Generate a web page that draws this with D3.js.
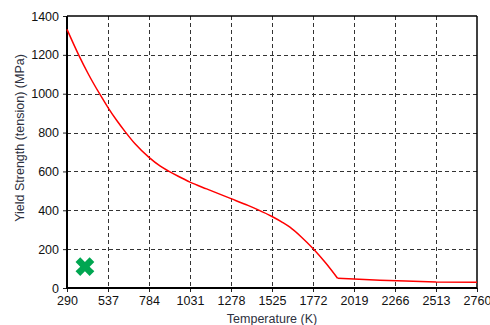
<!DOCTYPE html>
<html>
<head>
<meta charset="utf-8">
<script src="https://cdn.jsdelivr.net/npm/d3@7"></script>
<style>
  html, body { margin: 0; padding: 0; background: #fff; }
  svg { display: block; font-family: "Liberation Sans", Arial, sans-serif; }
</style>
</head>
<body>
<svg id="chart" width="490" height="325"></svg>
<script>
// Yield strength (tension) versus temperature
const temperatureK = [290, 360, 420, 486, 540, 590, 640, 700, 784, 850, 905, 960, 1031, 1131, 1278, 1380, 1442, 1525, 1590, 1633, 1700, 1772, 1850, 1920, 2019, 2175, 2330, 2513, 2760];
const yieldMPa     = [1331, 1200, 1099, 1000, 925, 862, 805, 742, 672, 628, 600, 575, 545, 510, 460, 425, 402, 368, 337, 313, 264, 203, 127, 50, 46, 40, 36, 31, 29];
// the curve has a sharp knee at this temperature; the tail beyond it is piecewise straight
const kneeT = 1920;

// Single measured point (green cross)
const markerT = [398];
const markerY = [110];

const xTicks = [290, 537, 784, 1031, 1278, 1525, 1772, 2019, 2266, 2513, 2760];
const yTicks = [0, 200, 400, 600, 800, 1000, 1200, 1400];

const xTitle = "Temperature (K)";
const yTitle = "Yield Strength (tension) (MPa)";

const svg = d3.select("#chart");
const plotL = 67, plotR = 477, plotT = 16, plotB = 288;

const x = d3.scaleLinear().domain([290, 2760]).range([plotL, plotR]);
const y = d3.scaleLinear().domain([0, 1400]).range([plotB, plotT]);

// grid
const grid = svg.append("g").attr("stroke", "#333").attr("stroke-width", 1)
  .attr("stroke-dasharray", "4,3");
grid.selectAll("line.v").data(xTicks.slice(1, -1)).join("line")
  .attr("class", "v")
  .attr("x1", d => Math.round(x(d)) + 0.5).attr("x2", d => Math.round(x(d)) + 0.5)
  .attr("y1", plotT).attr("y2", plotB);
grid.selectAll("line.h").data(yTicks.slice(1, -1)).join("line")
  .attr("class", "h")
  .attr("y1", d => Math.round(y(d)) + 0.5).attr("y2", d => Math.round(y(d)) + 0.5)
  .attr("x1", plotL).attr("x2", plotR);

// axes
const fontSize = "12.5px";
const xAxis = svg.append("g").attr("transform", `translate(0,${plotB})`)
  .call(d3.axisBottom(x).tickValues(xTicks).tickFormat(d3.format("d")).tickSize(4).tickPadding(4));
const yAxis = svg.append("g").attr("transform", `translate(${plotL},0)`)
  .call(d3.axisLeft(y).tickValues(yTicks).tickFormat(d3.format("d")).tickSize(4).tickPadding(4));
[xAxis, yAxis].forEach(a => {
  a.select(".domain").remove();
  a.selectAll("text").attr("fill", "#111").style("font-size", fontSize)
    .style("font-family", "'Liberation Sans', Arial, sans-serif");
  a.selectAll("line").attr("stroke", "#222");
});

// frame
svg.append("line").attr("x1", plotL).attr("x2", plotL).attr("y1", plotT).attr("y2", plotB + 1)
  .attr("stroke", "#000").attr("stroke-width", 2);
svg.append("line").attr("x1", plotL).attr("x2", plotR).attr("y1", plotB).attr("y2", plotB)
  .attr("stroke", "#000").attr("stroke-width", 2);
svg.append("line").attr("x1", plotL).attr("x2", plotR).attr("y1", plotT).attr("y2", plotT)
  .attr("stroke", "#000").attr("stroke-width", 1.5);
svg.append("line").attr("x1", plotR).attr("x2", plotR).attr("y1", plotT).attr("y2", plotB + 1)
  .attr("stroke", "#000").attr("stroke-width", 1.5);

// curve: smooth part up to the knee, straight segments after it
const pts = temperatureK.map((t, i) => [t, yieldMPa[i]]);
const smoothPts = pts.filter(p => p[0] <= kneeT);
const tailPts = pts.filter(p => p[0] >= kneeT);
const smoothLine = d3.line().x(p => x(p[0])).y(p => y(p[1])).curve(d3.curveMonotoneX);
const tailLine = d3.line().x(p => x(p[0])).y(p => y(p[1])).curve(d3.curveLinear);
const curve = svg.append("g").attr("fill", "none").attr("stroke", "#ff0000")
  .attr("stroke-width", 1.5).attr("stroke-linejoin", "round");
curve.append("path").attr("d", smoothLine(smoothPts));
curve.append("path").attr("d", tailLine(tailPts));

// green cross marker
const cross = d3.symbol().type(d3.symbolCross).size(220);
svg.selectAll("path.marker").data(markerT).join("path")
  .attr("class", "marker")
  .attr("d", cross)
  .attr("transform", (d, i) => `translate(${x(d)},${y(markerY[i])}) rotate(45)`)
  .attr("fill", "#00a651");

// axis titles
svg.append("text").attr("x", (plotL + plotR) / 2).attr("y", 323)
  .attr("text-anchor", "middle").attr("fill", "#2e3140").style("font-size", "12.5px")
  .text(xTitle);
svg.append("text").attr("transform", `translate(24,${(plotT + plotB) / 2 - 14}) rotate(-90)`)
  .attr("text-anchor", "middle").attr("fill", "#2e3140").style("font-size", "12.5px")
  .text(yTitle);
</script>
</body>
</html>
